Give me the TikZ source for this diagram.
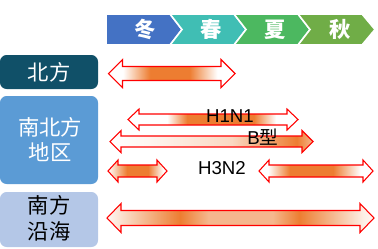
\documentclass[tikz,border=0pt]{standalone}
\usepackage{fontspec}
\setmainfont{Liberation Sans}
\newfontfamily\cjk{Noto Sans CJK SC}
\newfontfamily\lat{Liberation Sans}
\definecolor{myorange}{RGB}{237,125,49}
\definecolor{cwinter}{RGB}{68,114,196}
\definecolor{cspring}{RGB}{64,190,180}
\definecolor{csummer}{RGB}{76,184,96}
\definecolor{cautumn}{RGB}{112,173,71}
\definecolor{boxdark}{RGB}{16,80,104}
\definecolor{boxmid}{RGB}{91,155,213}
\definecolor{boxlight}{RGB}{180,199,231}
\colorlet{oA}{myorange!8}
\colorlet{oB}{myorange!30}
\colorlet{oC}{myorange!55}
\colorlet{oD}{myorange!55}
\colorlet{oE}{myorange!12}
\colorlet{oF}{myorange!5}
\pgfdeclarehorizontalshading{shNorth}{100bp}{color(0bp)=(white); color(30.7bp)=(white); color(41.4bp)=(myorange); color(57bp)=(myorange); color(68bp)=(white); color(100bp)=(white)}
\pgfdeclarehorizontalshading{shHone}{100bp}{color(0bp)=(white); color(36.5bp)=(white); color(42.4bp)=(myorange); color(62bp)=(myorange); color(68.5bp)=(white); color(100bp)=(white)}
\pgfdeclarehorizontalshading{shB}{100bp}{color(0bp)=(white); color(25bp)=(white); color(35bp)=(oA); color(55bp)=(oB); color(71bp)=(myorange); color(75bp)=(oC); color(100bp)=(oC)}
\pgfdeclarehorizontalshading{shHthreeL}{100bp}{color(0bp)=(white); color(25bp)=(white); color(41bp)=(myorange); color(59bp)=(myorange); color(72bp)=(white); color(100bp)=(white)}
\pgfdeclarehorizontalshading{shHthreeR}{100bp}{color(0bp)=(white); color(29bp)=(white); color(38.5bp)=(myorange); color(57.5bp)=(myorange); color(69.5bp)=(white); color(100bp)=(white)}
\pgfdeclarehorizontalshading{shSouth}{100bp}{color(0bp)=(oF); color(25bp)=(oF); color(38.7bp)=(myorange); color(44bp)=(oD); color(56bp)=(oD); color(61bp)=(myorange); color(73bp)=(oE); color(75bp)=(oF); color(100bp)=(oF)}
% double arrow: x1, x2, yc, half head, half shaft, head length, shading
\newcommand{\mydblarrow}[7]{%
  \shade[shading=#7, draw=red, line width=0.8pt, line join=miter]
    (#1,#3) -- ({#1+#6},{#3-#4}) -- ({#1+#6},{#3-#5}) -- ({#2-#6},{#3-#5})
    -- ({#2-#6},{#3-#4}) -- (#2,#3) -- ({#2-#6},{#3+#4}) -- ({#2-#6},{#3+#5})
    -- ({#1+#6},{#3+#5}) -- ({#1+#6},{#3+#4}) -- cycle;}
\tikzset{
  seasontext/.style={text=white, font=\cjk\bfseries\fontsize{16pt}{18pt}\selectfont, inner sep=0pt},
  boxtext/.style={font=\cjk\fontsize{16pt}{19pt}\selectfont, align=center, inner sep=0pt},
  labeltext/.style={font=\lat\fontsize{14pt}{16pt}\selectfont, inner sep=0pt},
  chev/.style={draw=white, line width=1.2pt, line join=miter},
}
\begin{document}
\begin{tikzpicture}[x=0.75pt,y=-0.75pt]
\useasboundingbox (0,0) rectangle (378,248);
% season chevrons
\fill[cwinter, chev] (106,14) -- (170,14) -- (182,29.5) -- (170,45) -- (106,45) -- cycle;
\fill[cspring, chev] (170,14) -- (234,14) -- (246,29.5) -- (234,45) -- (170,45) -- (182,29.5) -- cycle;
\fill[csummer, chev] (234,14) -- (298,14) -- (310,29.5) -- (298,45) -- (234,45) -- (246,29.5) -- cycle;
\fill[cautumn, chev] (298,14) -- (362,14) -- (375,29.5) -- (362,45) -- (298,45) -- (310,29.5) -- cycle;
\node[seasontext] (winter) at (145,29.5) {冬};
\node[seasontext] (spring) at (211,29.5) {春};
\node[seasontext] (summer) at (275,29.5) {夏};
\node[seasontext] (autumn) at (340,29.5) {秋};
% region boxes
\fill[boxdark, rounded corners=5pt] (0,55) rectangle (98,89);
\fill[boxmid, rounded corners=5pt] (0,96) rectangle (98,184);
\fill[boxlight, rounded corners=5pt] (0,192) rectangle (98,247);
\node[boxtext, text=white] (north) at (49,72) {北方};
\node[boxtext, text=white] (both) at (50,139.5) {南北方\\地区};
\node[boxtext, text=black] (south) at (49,218.5) {南方\\沿海};
% arrows
\mydblarrow{108.5}{235}{73.5}{14}{7}{14}{shNorth}
\mydblarrow{128}{298}{119.5}{10.5}{5.5}{11}{shHone}
\mydblarrow{110}{313}{141.5}{11}{5.5}{11}{shB}
\mydblarrow{108}{167}{171}{11}{6}{10}{shHthreeL}
\mydblarrow{259}{373}{171}{11}{6}{10}{shHthreeR}
\mydblarrow{107}{374}{218}{14.5}{7.5}{14}{shSouth}
% labels
\node[labeltext] (h1n1) at (230,116) {H1N1};
\node[labeltext] (btype) at (263,137) {B{\cjk 型}};
\node[labeltext] (h3n2) at (222,168) {H3N2};
\end{tikzpicture}
\end{document}
